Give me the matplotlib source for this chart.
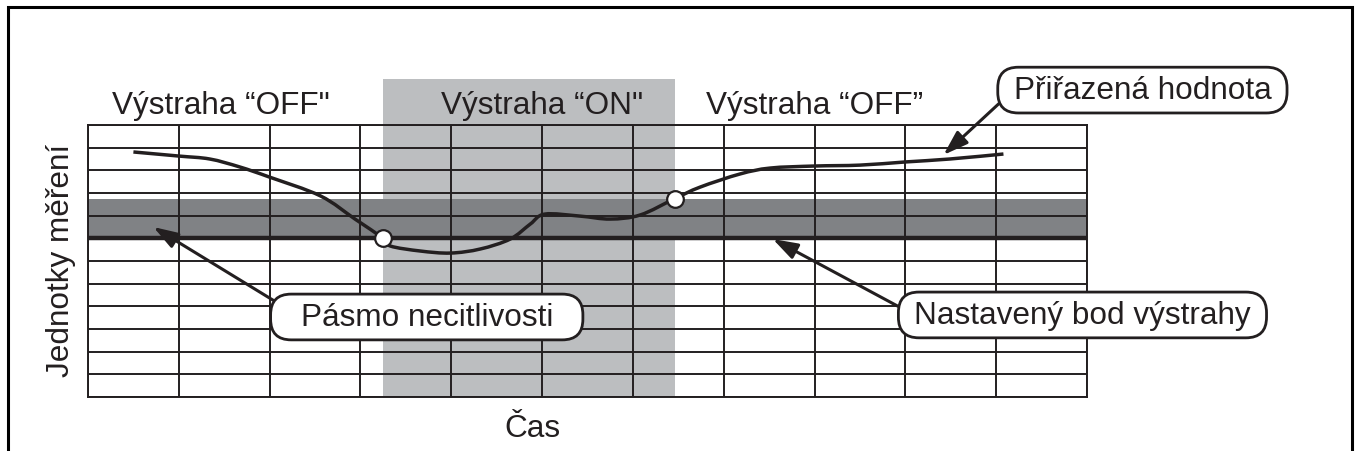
import matplotlib
matplotlib.use("Agg")
import matplotlib.pyplot as plt
from matplotlib.patches import Rectangle, PathPatch, BoxStyle
from matplotlib.path import Path

plt.rcParams["font.family"] = ["Liberation Sans", "DejaVu Sans"]

# grid: 11 time columns x 12 measurement rows
n_cols = 11
n_rows = 12
setpoint = 7.0          # alarm setpoint
deadband_top = 8.75     # top of insensitivity band
alarm_on_start = 3.25   # alarm switches on
alarm_on_end = 6.46     # alarm switches off
shade_top = 14.03

curve_x = [0.50, 1.00, 1.34, 1.67, 2.00, 2.56, 2.94, 3.25, 3.33, 3.66, 3.99, 4.32,
           4.65, 4.87, 5.03, 5.42, 5.75, 6.08, 6.46, 6.74, 7.18, 7.51, 8.00, 8.50,
           9.00, 9.49, 10.08]
curve_y = [10.81, 10.63, 10.50, 10.15, 9.70, 8.87, 7.85, 7.00, 6.66, 6.44, 6.35, 6.53,
           6.97, 7.63, 8.07, 7.98, 7.85, 8.03, 8.75, 9.26, 9.84, 10.10, 10.19, 10.23,
           10.37, 10.50, 10.72]
cross_x = [alarm_on_start, alarm_on_end]
cross_y = [setpoint, deadband_top]

state_labels = ["Výstraha “OFF\"", "Výstraha “ON\"", "Výstraha “OFF”"]
state_x = [1.46, 5.0, 8.0]

callout_labels = ["Přiřazená hodnota", "Pásmo necitlivosti", "Nastavený bod výstrahy"]
callout_tips = [(9.42, 10.68), (0.72, 7.5), (7.54, 6.97)]
callout_pos = [(11.61, 13.54), (3.73, 3.53), (10.95, 3.62)]
callout_padx = [0.5, 0.95, 0.5]

ink = "#231f20"
light = "#bcbec0"
dark = "#808285"
fs = 22.7


def smooth_path(xs, ys):
    # Catmull-Rom through the points, drawn as cubic Bezier segments
    pts = list(zip(xs, ys))
    verts = [pts[0]]
    codes = [Path.MOVETO]
    for i in range(len(pts) - 1):
        p0 = pts[max(i - 1, 0)]
        p1 = pts[i]
        p2 = pts[i + 1]
        p3 = pts[min(i + 2, len(pts) - 1)]
        c1 = (p1[0] + (p2[0] - p0[0]) / 6, p1[1] + (p2[1] - p0[1]) / 6)
        c2 = (p2[0] - (p3[0] - p1[0]) / 6, p2[1] - (p3[1] - p1[1]) / 6)
        verts += [c1, c2, p2]
        codes += [Path.CURVE4] * 3
    return Path(verts, codes)


def stadium(padx_frac):
    def style(x0, y0, width, height, mutation_size):
        padx = padx_frac * mutation_size
        pady = 0.25 * mutation_size
        w = width + 2 * padx
        h = height + 2 * pady
        return BoxStyle.Round(pad=0, rounding_size=0.45 * h)(x0 - padx, y0 - pady, w, h, 1.0)
    return style


fig = plt.figure(figsize=(13.55, 4.52), dpi=100)
ax = fig.add_axes([88 / 1355, 54 / 452, 999 / 1355, 272 / 452])
ax.set_xlim(0, n_cols)
ax.set_ylim(0, n_rows)

# shaded zones
ax.add_patch(Rectangle((alarm_on_start, 0), alarm_on_end - alarm_on_start, shade_top,
                       facecolor=light, edgecolor="none", clip_on=False, zorder=0.5))
ax.axhspan(setpoint, deadband_top, facecolor=dark, edgecolor="none", zorder=0.8)

# grid
ax.set_xticks(range(n_cols + 1))
ax.set_yticks(range(n_rows + 1))
ax.set_axisbelow(False)
ax.grid(True, color=ink, lw=1.4)
ax.tick_params(length=0, labelbottom=False, labelleft=False)
for sp in ax.spines.values():
    sp.set_color(ink)
    sp.set_linewidth(1.4)

ax.axhline(setpoint, color=ink, lw=3.2, zorder=3)

ax.add_patch(PathPatch(smooth_path(curve_x, curve_y), fc="none", ec=ink, lw=2.5,
                       zorder=4, capstyle="butt"))
ax.plot(cross_x, cross_y, "o", ms=12, mfc="white", mec=ink, mew=1.6, zorder=5)

for label, x in zip(state_labels, state_x):
    ax.text(x, 12.53, label, ha="center", va="baseline", fontsize=fs, color=ink)

ax.set_ylabel("Jednotky měření", fontsize=fs, color=ink)
ax.yaxis.set_label_coords(-0.012, 0.507)
ax.set_xlabel("Čas", fontsize=fs, color=ink, va="baseline")
ax.xaxis.set_label_coords(0.445, -0.143)

for text, tip, pos, padx in zip(callout_labels, callout_tips, callout_pos, callout_padx):
    ax.annotate(text, xy=tip, xytext=pos, ha="center", va="center", fontsize=fs,
                color=ink, annotation_clip=False, zorder=6,
                bbox=dict(boxstyle=stadium(padx), fc="white", ec=ink, lw=2),
                arrowprops=dict(arrowstyle="-|>,head_length=0.75,head_width=0.25",
                                color=ink, lw=2.2, mutation_scale=20,
                                shrinkA=0, shrinkB=0, relpos=(0, 0.5)))

# outer frame
fig.add_artist(Rectangle((8 / 1355, -0.1), 1344 / 1355, 1.1 - 8 / 452, fill=False,
                         ec="black", lw=2.2, transform=fig.transFigure))

fig.savefig("out.png", dpi=100)
